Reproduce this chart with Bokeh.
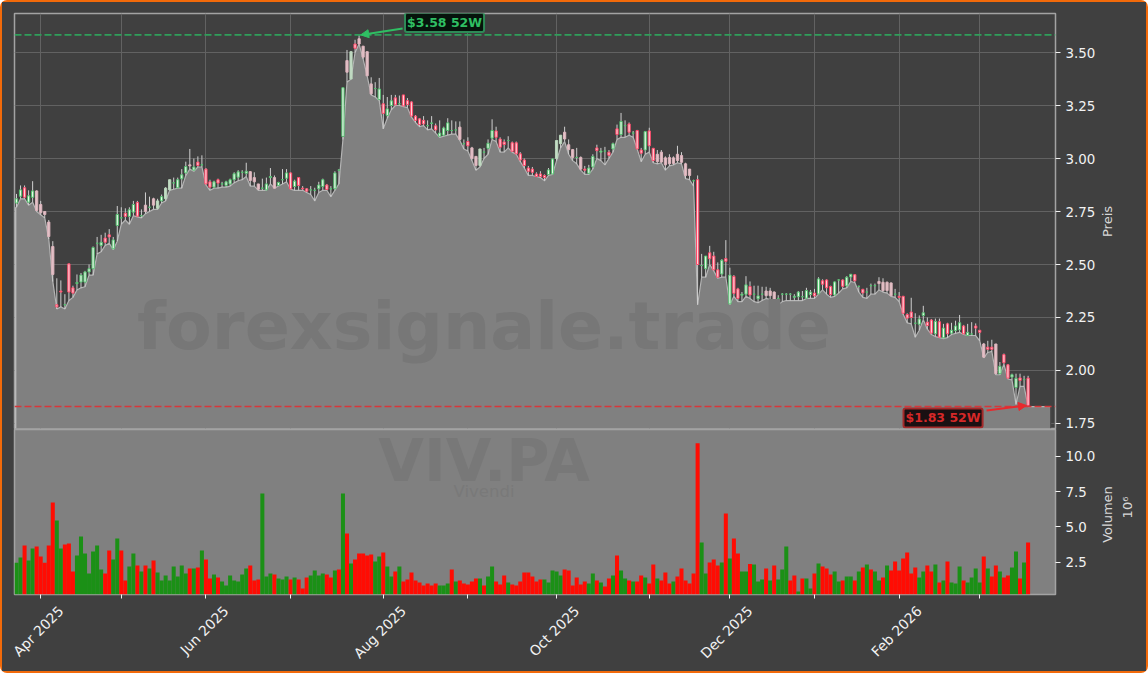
import math
from bokeh.embed import file_html
from bokeh.resources import INLINE
from bokeh.plotting import figure
from bokeh.layouts import column, row
from bokeh.models import ColumnDataSource, FixedTicker, Label, LinearAxis, Span, Arrow, NormalHead, Range1d

opens = [
 2.79,2.822,2.862,2.794,2.817,2.847,2.783,2.75,2.70,2.585,
 2.31,2.375,2.31,2.503,2.39,2.41,2.417,2.417,2.465,2.48,
 2.60,2.59,2.625,2.64,2.574,2.684,2.72,2.742,2.727,2.747,
 2.793,2.73,2.78,2.77,2.81,2.765,2.80,2.81,2.852,2.885,
 2.862,2.904,2.932,2.97,2.945,2.983,2.97,2.95,2.89,2.865,
 2.90,2.88,2.873,2.88,2.90,2.912,2.935,2.93,2.938,2.91,
 2.88,2.86,2.852,2.91,2.91,2.873,2.90,2.907,2.932,2.868,
 2.91,2.86,2.857,2.852,2.85,2.857,2.868,2.875,2.857,2.857,
 2.945,3.104,3.462,3.375,3.54,3.565,3.53,3.504,3.352,3.33,
 3.278,3.258,3.203,3.25,3.286,3.258,3.30,3.273,3.267,3.20,
 3.187,3.18,3.155,3.165,3.154,3.105,3.11,3.132,3.132,3.135,
 3.148,3.07,3.08,3.05,3.01,2.967,3.03,3.048,3.096,3.13,
 3.092,3.078,3.085,3.074,3.074,3.022,2.993,2.955,2.95,2.927,
 2.927,2.92,2.924,2.927,3.0,3.07,3.124,3.065,3.042,3.005,
 3.005,2.95,2.93,2.96,3.05,3.03,3.035,3.03,3.045,3.14,
 3.113,3.155,3.163,3.12,3.132,3.04,3.04,3.13,3.048,3.02,
 3.03,3.003,3.005,3.003,3.02,3.014,2.975,2.95,2.895,2.90,
 2.495,2.48,2.555,2.54,2.475,2.455,2.528,2.314,2.444,2.385,
 2.355,2.36,2.396,2.36,2.338,2.36,2.375,2.375,2.37,2.34,
 2.36,2.36,2.36,2.345,2.348,2.348,2.341,2.358,2.365,2.361,
 2.423,2.427,2.396,2.356,2.427,2.427,2.399,2.441,2.452,2.397,
 2.383,2.37,2.40,2.40,2.42,2.416,2.416,2.413,2.36,2.35,
 2.35,2.264,2.276,2.223,2.218,2.259,2.228,2.238,2.173,2.23,
 2.154,2.22,2.176,2.188,2.192,2.21,2.165,2.172,2.21,2.19,
 2.125,2.11,2.11,2.125,1.985,2.075,2.027,1.969,1.92,1.965,1.957,1.964,
]
highs = [
 2.833,2.873,2.873,2.85,2.893,2.85,2.80,2.75,2.71,2.61,
 2.435,2.425,2.36,2.503,2.40,2.453,2.46,2.47,2.50,2.585,
 2.63,2.64,2.65,2.667,2.63,2.776,2.77,2.765,2.77,2.80,
 2.80,2.76,2.84,2.82,2.815,2.81,2.83,2.865,2.90,2.91,
 2.91,2.95,2.985,3.045,3.0,3.01,3.015,2.955,2.90,2.895,
 2.905,2.89,2.895,2.905,2.935,2.945,2.945,2.98,2.94,2.935,
 2.88,2.905,2.91,2.955,2.92,2.89,2.95,2.95,2.935,2.90,
 2.91,2.87,2.86,2.87,2.862,2.89,2.905,2.88,2.87,2.94,
 2.95,3.334,3.512,3.504,3.56,3.583,3.53,3.504,3.383,3.36,
 3.38,3.30,3.29,3.30,3.30,3.297,3.30,3.285,3.27,3.205,
 3.19,3.20,3.18,3.20,3.165,3.18,3.15,3.19,3.18,3.175,
 3.175,3.09,3.10,3.055,3.01,3.045,3.05,3.09,3.185,3.15,
 3.10,3.09,3.105,3.08,3.08,3.03,3.0,2.965,2.96,2.935,
 2.94,2.925,2.955,3.0,3.085,3.11,3.15,3.09,3.045,3.05,
 3.01,2.965,2.97,3.02,3.065,3.05,3.055,3.04,3.075,3.16,
 3.215,3.18,3.17,3.13,3.135,3.05,3.13,3.145,3.05,3.04,
 3.04,3.01,3.02,3.01,3.06,3.03,2.98,2.95,2.90,2.92,
 2.55,2.54,2.588,2.56,2.51,2.525,2.615,2.485,2.45,2.39,
 2.37,2.445,2.42,2.40,2.40,2.395,2.395,2.39,2.373,2.355,
 2.365,2.365,2.365,2.36,2.375,2.375,2.39,2.38,2.385,2.44,
 2.43,2.43,2.40,2.42,2.43,2.43,2.445,2.455,2.455,2.40,
 2.385,2.39,2.41,2.41,2.44,2.435,2.42,2.415,2.385,2.37,
 2.352,2.27,2.343,2.27,2.26,2.305,2.25,2.243,2.245,2.245,
 2.22,2.225,2.225,2.235,2.262,2.215,2.22,2.228,2.222,2.19,
 2.13,2.14,2.145,2.125,2.04,2.08,2.03,1.985,1.985,1.985,1.975,1.975,
]
lows = [
 2.77,2.81,2.81,2.78,2.794,2.75,2.735,2.72,2.62,2.42,
 2.29,2.30,2.29,2.33,2.345,2.38,2.39,2.395,2.45,2.45,
 2.55,2.56,2.59,2.60,2.57,2.61,2.69,2.71,2.69,2.73,
 2.725,2.72,2.74,2.75,2.76,2.76,2.79,2.80,2.85,2.855,
 2.86,2.86,2.92,2.95,2.94,2.96,2.96,2.875,2.85,2.86,
 2.86,2.865,2.865,2.87,2.885,2.895,2.90,2.915,2.87,2.87,
 2.85,2.85,2.85,2.88,2.86,2.87,2.88,2.89,2.855,2.85,
 2.85,2.85,2.84,2.83,2.80,2.84,2.85,2.85,2.82,2.85,
 2.88,3.09,3.36,3.375,3.50,3.54,3.47,3.39,3.30,3.29,
 3.273,3.14,3.19,3.23,3.25,3.25,3.245,3.24,3.195,3.17,
 3.15,3.155,3.135,3.14,3.12,3.10,3.105,3.11,3.115,3.115,
 3.085,3.045,3.035,2.99,2.945,2.96,3.0,3.02,3.09,3.08,
 3.03,3.03,3.05,3.03,3.02,2.985,2.955,2.92,2.92,2.915,
 2.91,2.895,2.92,2.925,2.99,3.05,3.08,3.02,2.99,2.975,
 2.945,2.925,2.925,2.95,3.0,2.99,2.97,3.0,3.03,3.09,
 3.10,3.10,3.11,3.10,3.045,2.985,3.02,3.03,2.98,2.975,
 2.98,2.945,2.965,2.97,2.98,2.975,2.905,2.90,2.87,2.31,
 2.44,2.44,2.50,2.47,2.435,2.44,2.44,2.31,2.35,2.325,
 2.325,2.35,2.34,2.325,2.32,2.33,2.34,2.335,2.315,2.31,
 2.325,2.33,2.33,2.33,2.33,2.33,2.34,2.34,2.34,2.36,
 2.38,2.36,2.345,2.35,2.365,2.385,2.39,2.42,2.415,2.37,
 2.345,2.34,2.36,2.36,2.38,2.37,2.365,2.35,2.345,2.325,
 2.265,2.225,2.22,2.157,2.19,2.24,2.195,2.17,2.16,2.155,
 2.15,2.155,2.17,2.175,2.18,2.17,2.165,2.165,2.165,2.14,
 2.06,2.085,2.09,1.98,1.98,2.03,1.96,1.955,1.84,1.925,1.925,1.83,
]
closes = [
 2.81,2.852,2.817,2.824,2.847,2.755,2.744,2.736,2.632,2.453,
 2.30,2.37,2.31,2.37,2.365,2.415,2.45,2.465,2.48,2.58,
 2.60,2.605,2.605,2.63,2.616,2.736,2.72,2.727,2.758,2.783,
 2.728,2.73,2.75,2.77,2.78,2.80,2.82,2.86,2.90,2.885,
 2.90,2.923,2.962,2.965,2.96,2.967,2.97,2.88,2.865,2.89,
 2.884,2.88,2.89,2.90,2.928,2.937,2.935,2.94,2.896,2.89,
 2.855,2.86,2.88,2.915,2.86,2.887,2.90,2.932,2.857,2.893,
 2.873,2.857,2.846,2.852,2.85,2.875,2.90,2.854,2.857,2.932,
 2.945,3.334,3.407,3.504,3.52,3.54,3.478,3.39,3.305,3.33,
 3.328,3.213,3.234,3.272,3.253,3.258,3.248,3.255,3.20,3.18,
 3.16,3.163,3.155,3.168,3.135,3.12,3.144,3.168,3.132,3.135,
 3.09,3.07,3.06,3.0,2.967,3.045,3.03,3.072,3.132,3.10,
 3.053,3.066,3.085,3.034,3.022,2.993,2.967,2.94,2.935,2.915,
 2.915,2.91,2.946,2.998,3.085,3.11,3.092,3.042,3.005,3.005,
 2.95,2.945,2.955,3.01,3.037,3.035,3.035,3.015,3.07,3.113,
 3.175,3.155,3.124,3.12,3.045,3.025,3.127,3.06,2.99,2.985,
 2.983,2.97,2.975,2.977,2.99,2.982,2.92,2.92,2.895,2.50,
 2.495,2.54,2.527,2.475,2.44,2.52,2.515,2.45,2.364,2.34,
 2.36,2.404,2.356,2.36,2.352,2.36,2.353,2.353,2.32,2.34,
 2.36,2.36,2.36,2.35,2.37,2.348,2.377,2.37,2.352,2.432,
 2.407,2.39,2.358,2.418,2.427,2.397,2.44,2.454,2.423,2.397,
 2.366,2.37,2.40,2.40,2.41,2.377,2.377,2.353,2.36,2.345,
 2.27,2.247,2.25,2.223,2.243,2.272,2.212,2.176,2.232,2.157,
 2.20,2.173,2.19,2.21,2.225,2.173,2.18,2.172,2.20,2.18,
 2.063,2.10,2.10,1.985,2.02,2.036,1.964,1.98,1.963,1.953,1.957,1.835,
]
volumes = [
 2.46,2.83,3.68,2.62,3.47,3.61,2.9,2.46,3.68,6.73,
 5.46,3.47,3.76,3.83,1.84,2.98,4.32,3.12,1.7,3.26,
 3.68,1.98,1.7,3.33,2.69,4.18,3.33,1.2,2.2,3.12,
 2.27,1.84,2.27,2.05,2.62,1.77,1.2,1.56,1.2,2.2,
 1.49,2.27,1.7,2.05,2.05,2.12,3.33,2.69,1.34,1.63,
 1.42,1.13,0.85,1.56,1.2,1.13,1.63,2.05,2.27,1.2,
 1.27,7.37,1.49,1.7,1.63,1.34,1.27,1.49,1.27,1.42,
 1.27,0.64,1.42,1.56,1.91,1.56,1.7,1.63,1.42,1.91,
 1.98,7.37,4.54,2.41,2.69,3.12,3.12,2.98,3.05,2.55,
 2.9,3.19,2.2,1.49,1.84,2.2,1.13,1.27,1.77,1.2,
 1.06,0.85,0.99,0.85,0.99,0.85,0.85,0.99,1.98,1.13,
 1.2,0.99,0.92,1.13,1.34,1.34,0.85,1.49,2.2,1.13,
 0.92,1.56,1.06,0.92,0.85,1.13,1.77,1.77,1.49,1.13,
 1.27,1.27,1.06,1.91,1.84,1.56,1.98,1.91,0.85,1.42,
 0.92,1.13,0.99,1.7,1.2,1.06,0.78,1.34,1.56,2.98,
 1.91,1.34,1.2,1.13,1.13,1.56,1.42,0.99,2.34,1.34,
 1.2,1.77,0.99,1.13,1.49,2.05,1.2,0.99,1.7,10.94,
 3.9,1.7,2.48,2.69,2.27,2.48,5.95,2.76,4.18,3.12,
 1.84,1.84,2.38,2.34,1.13,1.27,2.05,1.2,2.27,1.27,
 1.98,3.61,1.2,1.56,0.42,1.34,1.34,0.64,1.7,2.41,
 2.2,2.05,1.63,1.84,1.13,1.2,1.49,1.49,1.2,1.84,
 2.12,2.34,1.98,1.84,1.2,1.42,2.27,1.91,2.55,1.91,
 2.76,3.19,1.7,2.12,1.42,1.84,2.27,1.84,2.34,1.06,
 1.2,2.55,1.06,0.99,2.2,1.2,1.06,1.42,2.05,1.06,
 2.9,2.05,1.49,2.27,1.84,1.42,1.56,2.12,3.26,1.34,2.48,3.9,
]
volume_dir = ("GGRGGRRRRR" "GGRRRGGGGG" "GGRRGGRRGG" "RGRGRGGGGG" "GGGRGRGRRG"
              "RGGGGGGGRR" "RGGGRGGGRG" "RRRGGGGRRG" "RGRGRRRRRG" "GRGGRGRRRR"
              "RRRRRGGGRG" "RRRRRGRGGR" "RRGRRRRRRR" "RGGGGGRRRR" "RRGGRGRRGR"
              "GGRGRRGRRG" "RRRGRRRRRR" "GGRRRGRGRR" "GGRGGGRGRG" "GGRRGRGGRG"
              "RRRGGRGGRG" "RGRGGRGRRR" "RRRRGGRRGR" "GRGGGRGGGG" "RGRRGRRGGRGR")

# candles that look washed out in the reference
pale_candles = [5, 6, 7, 8, 9, 32, 34, 35, 37, 38, 43, 58, 59, 60, 64, 82, 83, 85, 86, 87, 88,
                110, 113, 114, 115, 134, 135, 136, 137, 138, 140, 159, 160, 161, 162, 163, 164,
                165, 166, 167, 186, 187, 188, 214, 215, 216, 217, 240, 243]

month_ticks = [6, 26, 47, 68, 91, 112, 134, 157, 177, 198, 219, 239]
month_labels = {6: "Apr 2025", 47: "Jun 2025", 91: "Aug 2025", 134: "Oct 2025", 177: "Dec 2025", 219: "Feb 2026"}
price_ticks = [1.75, 2.0, 2.25, 2.5, 2.75, 3.0, 3.25, 3.5]
volume_ticks = [2.5, 5.0, 7.5, 10.0]

assert len(opens) == len(highs) == len(lows) == len(closes) == len(volumes) == len(volume_dir) == 252

FONT = "DejaVu Sans"
DARK = "#404040"
GREY = "#808080"
ORANGE = "#f26a0a"
idx = list(range(len(opens)))

xr = Range1d(-0.5, 257.8)
bottom_price = 1.7264
# The two panels' canvases overlap a little, with see-through borders, so that
# neither the "1.75" tick label nor the VIV.PA watermark meets a canvas edge.
p1 = figure(width=1144, height=430, output_backend="svg", toolbar_location=None,
            x_range=xr, y_range=Range1d(bottom_price, 3.684),
            x_axis_location=None, y_axis_location="right",
            min_border_left=12, min_border_right=91, min_border_top=11, min_border_bottom=4,
            background_fill_color=DARK, border_fill_color=None,
            outline_line_color="#a3a3a3", outline_line_width=1.5,
            margin=(0, 0, 0, 0))
p2 = figure(width=1144, height=248, output_backend="svg", toolbar_location=None,
            x_range=xr, y_range=Range1d(0.21, 11.91),
            y_axis_location="right",
            min_border_left=12, min_border_right=91, min_border_top=6, min_border_bottom=77,
            background_fill_color=GREY, border_fill_color=None,
            outline_line_color="#a3a3a3", outline_line_width=1.5,
            margin=(-9, 0, 0, 0))

# grid
p1.xgrid.ticker = FixedTicker(ticks=month_ticks)
p1.ygrid.ticker = FixedTicker(ticks=price_ticks)
for g in (p1.xgrid, p1.ygrid):
    g.grid_line_color = "#626262"
    g.grid_line_width = 1
p2.grid.visible = False

# area under the lows
end_x = 256.6
area_x = [-0.2] + idx + [end_x]
area_y = [lows[0]] + lows + [lows[-1]]
p1.varea(x=area_x, y1=[bottom_price] * len(area_x), y2=area_y, fill_color=GREY)
p1.line(x=area_x, y=area_y, line_color="#b4b4b4", line_width=1.2)
p1.segment(x0=[-0.2], y0=[bottom_price], x1=[-0.2], y1=[lows[0]], line_color="#c4c4c4", line_width=1.2)
p1.segment(x0=[end_x], y0=[bottom_price], x1=[end_x], y1=[lows[-1]], line_color="#4c4c4c", line_width=1.2)

# candles
up = [c >= o for o, c in zip(opens, closes)]
pale = set(pale_candles)
src = ColumnDataSource(dict(
    x=idx, o=opens, h=highs, l=lows, c=closes,
    top=[max(o, c) for o, c in zip(opens, closes)],
    bot=[min(o, c) for o, c in zip(opens, closes)],
    edge=[("#b9d6bb" if u else "#dcb4bc") if i in pale else ("#55c070" if u else "#ff4a6a") for i, u in enumerate(up)],
    fill=[("#c4dcc6" if u else "#e4c2c8") if i in pale else ("#eaf8ea" if u else "#ffd0d8") for i, u in enumerate(up)],
))
p1.segment(x0="x", y0="l", x1="x", y1="h", source=src, line_color="#cfcfcf", line_width=1)
p1.vbar(x="x", top="top", bottom="bot", width=0.55, source=src,
        fill_color="fill", line_color="edge", line_width=1)

# extremes
hi = max(highs)
lo = min(lows)
p1.add_layout(Span(location=hi, dimension="width", line_color="#2f9e5a", line_width=1.7, line_dash=[7, 3]))
p1.add_layout(Span(location=lo, dimension="width", line_color="#d8363a", line_width=1.5, line_dash=[7, 3]))
p1.add_layout(Arrow(end=NormalHead(size=8, fill_color="#2fbf63", line_color="#2fbf63"),
                    x_start=95.8, y_start=3.613, x_end=highs.index(hi) + 0.4, y_end=hi,
                    line_color="#2fbf63", line_width=2))
p1.add_layout(Arrow(end=NormalHead(size=8, fill_color="#e8292d", line_color="#e8292d"),
                    x_start=240.7, y_start=1.811, x_end=250.6, y_end=lo + 0.005,
                    line_color="#e8292d", line_width=2))
p1.add_layout(Label(x=106.2, y=3.642, text=f"${hi:.2f} 52W", text_font=FONT, text_font_style="bold",
                    text_font_size="12.5px", text_color="#2fbf63", text_align="center", text_baseline="middle",
                    background_fill_color="#06140c", border_line_color="#2e8b57", border_line_width=2,
                    padding=2, border_radius=2))
p1.add_layout(Label(x=229.9, y=1.776, text=f"${lo:.2f} 52W", text_font=FONT, text_font_style="bold",
                    text_font_size="12.5px", text_color="#d62828", text_align="center", text_baseline="middle",
                    background_fill_color="#1a1012", border_line_color="#a42a2a", border_line_width=2,
                    padding=2, border_radius=2))

# watermarks
p1.add_layout(Label(x=116.0, y=2.212, text="forexsignale.trade", text_font=FONT, text_font_style="bold",
                    text_font_size="66.6px", text_color="#777777", text_align="center", text_baseline="middle"))
p2.add_layout(Label(x=116.0, y=9.7, text="VIV.PA", text_font=FONT, text_font_style="bold",
                    text_font_size="59px", text_color="#787878", text_align="center", text_baseline="middle"))
p2.add_layout(Label(x=116.0, y=7.5, text="Vivendi", text_font=FONT,
                    text_font_size="16.5px", text_color="#797979", text_align="center", text_baseline="middle"))

# volume
vol_colors = ["#1b9016" if d == "G" else "#ff0c03" for d in volume_dir]
p2.vbar(x=idx, top=volumes, bottom=0.0, width=1.0, fill_color=vol_colors, line_color=None)

# axes
for ax, ticks in ((p1.yaxis[0], price_ticks), (p2.yaxis[0], volume_ticks)):
    ax.ticker = FixedTicker(ticks=ticks)
    ax.major_tick_line_color = "#f2f2f2"
    ax.major_tick_in = 0
    ax.major_tick_out = 5
    ax.minor_tick_line_color = None
    ax.axis_line_color = None
    ax.major_label_text_color = "#f2f2f2"
    ax.major_label_text_font = FONT
    ax.major_label_text_font_size = "13.4px"
    ax.major_label_standoff = 5
p1.yaxis[0].major_label_overrides = {t: f"{t:.2f}" for t in price_ticks}
p2.yaxis[0].major_label_overrides = {t: f"{t:.1f}" for t in volume_ticks}

# x axis: one axis for the tick marks, one beneath it for labels centred on their ticks
xa = p2.xaxis[0]
xa.ticker = FixedTicker(ticks=month_ticks)
xa.major_tick_line_color = "#f2f2f2"
xa.major_tick_in = 0
xa.major_tick_out = 4
xa.minor_tick_line_color = None
xa.axis_line_color = None
xa.major_label_overrides = {t: "" for t in month_ticks}
xa.major_label_standoff = 0

label_shift = 5.0
xb = LinearAxis(ticker=FixedTicker(ticks=[t + label_shift for t in month_labels]),
                major_label_overrides={t + label_shift: s for t, s in month_labels.items()},
                major_label_orientation=math.pi / 4, major_label_standoff=4,
                major_label_text_font=FONT, major_label_text_font_size="13.9px",
                major_label_text_color="#f2f2f2", major_tick_line_color=None,
                minor_tick_line_color=None, axis_line_color=None)
p2.add_layout(xb, "below")

# Axis titles: Bokeh clips Labels to the frame and cannot centre an upward-reading axis
# label, so they sit in a see-through strip laid over the right edge, in page pixels.
titles = figure(width=56, height=669, output_backend="svg", toolbar_location=None,
                x_range=Range1d(1090, 1146), y_range=Range1d(671, 2),
                x_axis_location=None, y_axis_location=None,
                min_border=0, background_fill_color=None, border_fill_color=None,
                outline_line_color=None, margin=(0, 0, 0, -56))
titles.grid.visible = False
title_style = dict(angle=math.pi / 2, text_font=FONT, text_font_size="13px", text_color="#d8d8d8",
                   text_align="center", text_baseline="middle")
titles.add_layout(Label(x=1107, y=221, text="Preis", **title_style))
titles.add_layout(Label(x=1107, y=514, text="Volumen", **title_style))
titles.add_layout(Label(x=1127, y=507, text="10⁶", **title_style))

panels = column(p1, p2, spacing=0)
inner = row(panels, titles, spacing=0, margin=(2, 2, 2, 2), styles={"background-color": DARK})
page = column(inner, spacing=0, styles={"background-color": ORANGE, "border-radius": "7px"})
open("out.html", "w").write(file_html(page, INLINE))
